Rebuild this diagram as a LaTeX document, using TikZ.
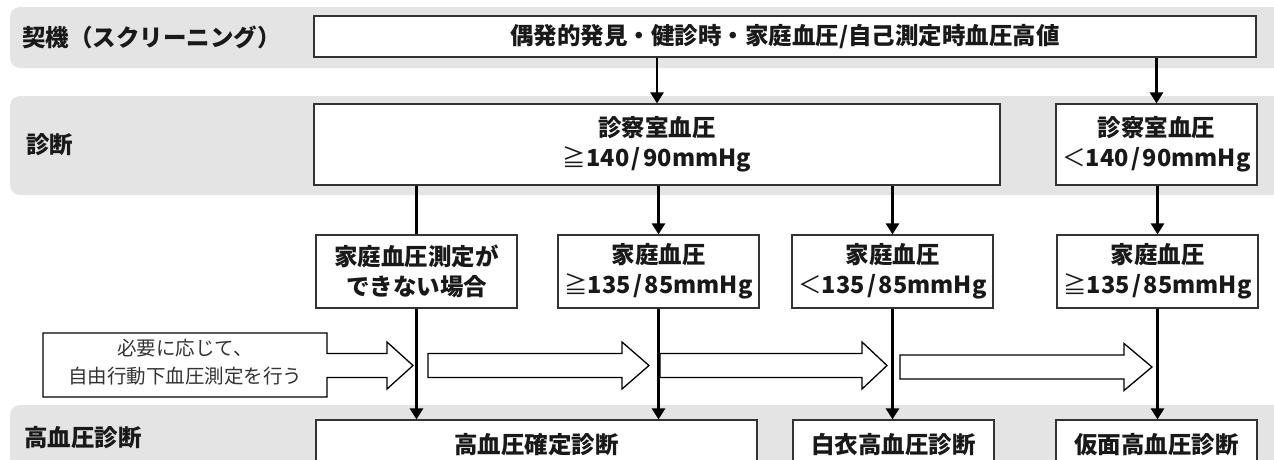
\documentclass[tikz,border=0pt]{standalone}
\usepackage{fontspec}
\setmainfont{Noto Sans CJK JP}
\usetikzlibrary{arrows.meta}
\definecolor{bandgray}{HTML}{E4E4E4}
\definecolor{edgegray}{HTML}{333333}
\newcommand{\myblockarrow}[4]{%
  \draw[blk] (#1,#4-12) -- (#2,#4-12) -- (#2,#4-23.5) -- (#3,#4) -- (#2,#4+23.5) -- (#2,#4+12) -- (#1,#4+12) -- cycle;}
\newcommand{\myslash}{\kern2.5pt/\kern2.5pt}
\newcommand{\myge}{{\mdseries ≧}}
\newcommand{\mylt}{{\mdseries ＜}}
\begin{document}
\begin{tikzpicture}[x=1pt,y=-1pt,
  band/.style={fill=bandgray, rounded corners=10pt},
  lab/.style={anchor=west, inner sep=0, font=\fontsize{23.5}{30}\selectfont\bfseries, text=black!90},
  box/.style={draw=edgegray, line width=1.2pt, fill=white, inner sep=0, align=center, font=\fontsize{23.5}{30}\selectfont\bfseries, text=black!90},
  conn/.style={line width=2.6pt, draw=black},
  arr/.style={conn, -{Triangle[length=11pt,width=13pt]}},
  blk/.style={draw=black, line width=1.3pt, fill=white, line join=miter},
  note/.style={align=center, inner sep=0, font=\fontsize{19.5}{28}\selectfont, text=black!80}]
\useasboundingbox (0,0) rectangle (1274,459);
\clip (0,0) rectangle (1274,459);
% bands
\fill[band] (10,7) rectangle (1300,68);
\fill[band] (10,96) rectangle (1300,195);
\fill[band] (10,405) rectangle (1300,500);
% labels
\node[lab] (l1) at (22,37) {契機（スクリーニング）};
\node[lab] (l2) at (26,145) {診断};
\node[lab] (l3) at (24,438) {高血圧診断};
% boxes
\node[box, minimum width=942pt, minimum height=41pt] (top) at (785,36.5) {偶発的発見・健診時・家庭血圧/自己測定時血圧高値};
\node[box, minimum width=686pt, minimum height=81pt] (diagA) at (657,144.5) {診察室血圧\\\myge 140\myslash 90mmHg};
\node[box, minimum width=201pt, minimum height=81pt] (diagB) at (1156.5,144.5) {診察室血圧\\\mylt 140\myslash 90mmHg};
\node[box, minimum width=201pt, minimum height=73pt] (m1) at (416.5,271.5) {家庭血圧測定が\\できない場合};
\node[box, minimum width=201pt, minimum height=73pt] (m2) at (658.5,271.5) {家庭血圧\\\myge 135\myslash 85mmHg};
\node[box, minimum width=201pt, minimum height=73pt] (m3) at (892.5,271.5) {家庭血圧\\\mylt 135\myslash 85mmHg};
\node[box, minimum width=201pt, minimum height=73pt] (m4) at (1157.5,271.5) {家庭血圧\\\myge 135\myslash 85mmHg};
\node[box, minimum width=441pt, minimum height=50pt] (b1) at (536.5,445) {高血圧確定診断};
\node[box, minimum width=201pt, minimum height=50pt] (b2) at (893.5,445) {白衣高血圧診断};
\node[box, minimum width=201pt, minimum height=50pt] (b3) at (1156.5,445) {仮面高血圧診断};
% block arrows
\myblockarrow{428}{622}{649}{365.5}
\myblockarrow{660}{862}{887}{365.5}
\myblockarrow{900}{1124}{1152}{367}
\draw[blk] (43,333) -- (327,333) -- (327,353.5) -- (387,353.5) -- (387,342) -- (413,365.5) -- (387,389) -- (387,377.5) -- (327,377.5) -- (327,397) -- (43,397) -- cycle;
\node[note] (nt) at (185,362) {必要に応じて、\\自由行動下血圧測定を行う};
% connectors
\draw[arr] (diagA.north |- top.south) -- (diagA.north);
\draw[arr] (diagB.north |- top.south) -- (diagB.north);
\draw[conn] (m1.north |- diagA.south) -- (m1.north);
\draw[arr] (m2.north |- diagA.south) -- (m2.north);
\draw[arr] (m3.north |- diagA.south) -- (m3.north);
\draw[arr] (diagB.south -| m4.north) -- (m4.north);
\draw[arr] (m1.south) -- (m1.south |- b1.north);
\draw[arr] (m2.south) -- (m2.south |- b1.north);
\draw[arr] (m3.south) -- (m3.south |- b2.north);
\draw[arr] (m4.south) -- (m4.south |- b3.north);
\end{tikzpicture}
\end{document}
